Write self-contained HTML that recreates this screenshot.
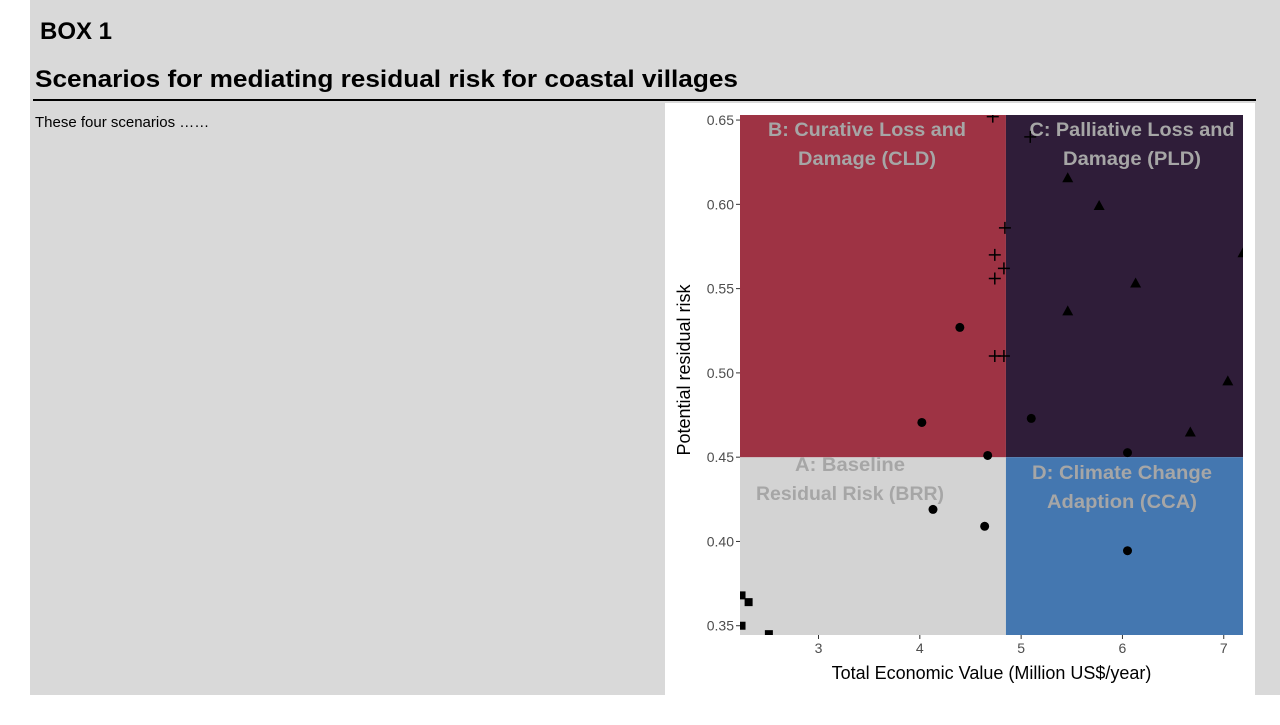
<!DOCTYPE html>
<html><head><meta charset="utf-8"><style>
body{margin:0;width:1280px;height:720px;background:#fff;overflow:hidden;font-family:"Liberation Sans",sans-serif}
</style></head><body>
<svg width="1280" height="720" xmlns="http://www.w3.org/2000/svg">
<rect x="30" y="0" width="1250" height="695" fill="#d9d9d9"/>
<text x="40" y="39" font-size="24" font-weight="bold" fill="#000">BOX 1</text>
<text x="35" y="87" font-size="24" font-weight="bold" fill="#000" textLength="703" lengthAdjust="spacingAndGlyphs">Scenarios for mediating residual risk for coastal villages</text>
<rect x="33" y="99" width="1223" height="2" fill="#000"/>
<text x="35" y="127" font-size="15" fill="#000">These four scenarios ……</text>
<rect x="665" y="103" width="590" height="592" fill="#fff"/>
<g id="chart"></g>
</svg>
<script>
const circlesX=[4.395,4.02,4.67,4.13,4.64,5.10,6.05,6.05];
const circlesY=[0.527,0.4706,0.451,0.419,0.409,0.473,0.4527,0.3945];
const trianglesX=[5.46,5.77,6.13,5.46,7.19,7.04,6.67];
const trianglesY=[0.6155,0.599,0.553,0.5365,0.571,0.495,0.4646];
const crossesX=[4.72,5.09,4.84,4.74,4.83,4.74,4.74,4.83];
const crossesY=[0.652,0.64,0.586,0.570,0.562,0.556,0.510,0.510];
const squaresX=[2.24,2.31,2.24,2.51];
const squaresY=[0.368,0.364,0.35,0.345];
const xTicks=[3,4,5,6,7];
const yTicks=[0.35,0.40,0.45,0.50,0.55,0.60,0.65];
const xMin=2.225,xMax=7.19,yMin=0.3445,yMax=0.653;
const splitX=4.85,splitY=0.45;
const L=740,R=1243,T=115,B=635;
const sx=v=>L+(v-xMin)/(xMax-xMin)*(R-L);
const sy=v=>B-(v-yMin)/(yMax-yMin)*(B-T);
const NS="http://www.w3.org/2000/svg";
const g=document.getElementById('chart');
function mk(tag,attrs,parent){const e=document.createElementNS(NS,tag);for(const k in attrs)e.setAttribute(k,attrs[k]);(parent||g).appendChild(e);return e;}
const defs=mk('defs',{});
const cp=mk('clipPath',{id:'clip'},defs);mk('rect',{x:L,y:T,width:R-L,height:B-T},cp);
let q;
q=mk('rect',{x:L,y:sy(splitY),width:sx(splitX)-L,height:B-sy(splitY),fill:'#d3d3d3'});

q=mk('rect',{x:L,y:T,width:sx(splitX)-L,height:sy(splitY)-T,fill:'#9e3344'});

q=mk('rect',{x:sx(splitX),y:T,width:R-sx(splitX),height:sy(splitY)-T,fill:'#2f1d39'});

q=mk('rect',{x:sx(splitX),y:sy(splitY),width:R-sx(splitX),height:B-sy(splitY),fill:'#4477b0'});

const labels=[["B: Curative Loss and",867,136,198],["Damage (CLD)",867,165,138],["C: Palliative Loss and",1132,136,205],["Damage (PLD)",1132,165,138],["A: Baseline",850,471,110],["Residual Risk (BRR)",850,500,188],["D: Climate Change",1122,479,180],["Adaption (CCA)",1122,508,150]];
labels.forEach(l=>{const t=mk('text',{x:l[1],y:l[2],'text-anchor':'middle','font-size':19,'font-weight':'bold',fill:'#a6a6a6',textLength:l[3],lengthAdjust:'spacingAndGlyphs'});t.textContent=l[0];
});
const pts=mk('g',{'clip-path':'url(#clip)'});
circlesX.forEach((v,i)=>{const e=mk('circle',{cx:sx(v),cy:sy(circlesY[i]),r:4.5,fill:'#000'},pts);
});
trianglesX.forEach((v,i)=>{const x=sx(v),y=sy(trianglesY[i]);const e=mk('polygon',{points:`${x},${y-6} ${x-5.5},${y+4} ${x+5.5},${y+4}`,fill:'#000'},pts);
});
crossesX.forEach((v,i)=>{const x=sx(v),y=sy(crossesY[i]);const e=mk('path',{d:`M${x-6},${y}H${x+6}M${x},${y-6}V${y+6}`,stroke:'#000','stroke-width':1.5},pts);
});
squaresX.forEach((v,i)=>{const x=sx(v),y=sy(squaresY[i]);const e=mk('rect',{x:x-4,y:y-4,width:8,height:8,fill:'#000'},pts);
});
xTicks.forEach(v=>{const x=sx(v);mk('line',{x1:x,x2:x,y1:B,y2:B+4,stroke:'#333'});
const t=mk('text',{x:x,y:B+18,'text-anchor':'middle','font-size':14,fill:'#4d4d4d'});t.textContent=v;
});
yTicks.forEach(v=>{const y=sy(v);mk('line',{x1:L-4,x2:L,y1:y,y2:y,stroke:'#333'});
const t=mk('text',{x:L-6,y:y+5,'text-anchor':'end','font-size':14,fill:'#4d4d4d'});t.textContent=v.toFixed(2);
});
let t=mk('text',{x:(L+R)/2,y:679,'text-anchor':'middle','font-size':18,fill:'#000'});t.textContent='Total Economic Value (Million US$/year)';

t=mk('text',{x:0,y:0,'text-anchor':'middle','font-size':18,fill:'#000',transform:`translate(690,${(T+B)/2-5}) rotate(-90)`});t.textContent='Potential residual risk';

</script>
</body></html>
